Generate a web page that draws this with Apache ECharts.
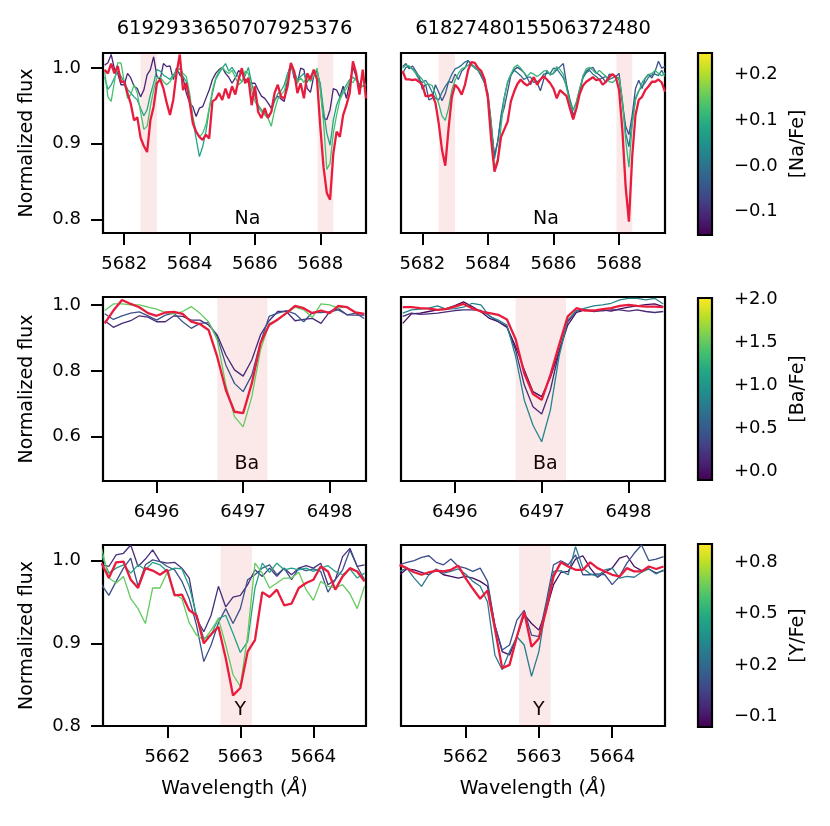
<!DOCTYPE html>
<html>
<head>
<meta charset="utf-8">
<script src="https://cdn.jsdelivr.net/npm/echarts@6/dist/echarts.min.js"></script>
<style>
  html, body { margin: 0; padding: 0; background: #fff; }
  #chart { width: 830px; height: 826px; }
</style>
</head>
<body>
<div id="chart"></div>
<script>
// ── spectra ─────────────────────────────────────────────────
const FONT = 'DejaVu Sans';
const RED = '#e81d3e';

const TITLES = ['6192933650707925376', '6182748015506372480'];
const ELEMENTS = ['Na', 'Ba', 'Y'];
const CB_NAMES = ['[Na/Fe]', '[Ba/Fe]', '[Y/Fe]'];

// wavelength grids (Å)
const WL_NA = [5681.4,5681.5,5681.6,5681.7,5681.8,5681.9,5682.0,5682.1,5682.2,5682.3,
  5682.4,5682.5,5682.6,5682.7,5682.8,5682.9,5683.0,5683.1,5683.2,5683.3,
  5683.4,5683.5,5683.6,5683.7,5683.8,5683.9,5684.0,5684.1,5684.2,5684.3,
  5684.4,5684.5,5684.6,5684.7,5684.8,5684.9,5685.0,5685.1,5685.2,5685.3,
  5685.4,5685.5,5685.6,5685.7,5685.8,5685.9,5686.0,5686.1,5686.2,5686.3,
  5686.4,5686.5,5686.6,5686.7,5686.8,5686.9,5687.0,5687.1,5687.2,5687.3,
  5687.4,5687.5,5687.6,5687.7,5687.8,5687.9,5688.0,5688.1,5688.2,5688.3,
  5688.4,5688.5,5688.6,5688.7,5688.8,5688.9,5689.0,5689.1,5689.2,5689.3,5689.4];
const WL_BA = [6495.4,6495.5,6495.6,6495.7,6495.8,6495.9,6496.0,6496.1,6496.2,6496.3,
  6496.4,6496.5,6496.6,6496.7,6496.8,6496.9,6497.0,6497.1,6497.2,6497.3,
  6497.4,6497.5,6497.6,6497.7,6497.8,6497.9,6498.0,6498.1,6498.2,6498.3,6498.4];
const WL_Y = [5661.1,5661.2,5661.3,5661.4,5661.5,5661.6,5661.7,5661.8,5661.9,5662.0,
  5662.1,5662.2,5662.3,5662.4,5662.5,5662.6,5662.7,5662.8,5662.9,5663.0,
  5663.1,5663.2,5663.3,5663.4,5663.5,5663.6,5663.7,5663.8,5663.9,5664.0,
  5664.1,5664.2,5664.3,5664.4,5664.5,5664.6,5664.7];

// Na · star 1 (left)
const NA_L_RED = [0.998,0.993,1.006,0.993,1.003,0.982,0.982,0.967,0.953,0.931,
  0.935,0.908,0.897,0.889,0.931,0.949,0.980,0.985,0.973,0.954,
  0.938,0.958,0.993,1.018,0.971,0.980,0.956,0.927,0.916,0.909,
  0.905,0.912,0.907,0.956,0.959,0.967,0.958,0.973,0.960,0.976,
  0.965,0.985,1.000,0.980,0.987,0.951,0.976,0.942,0.934,0.947,
  0.934,0.942,0.967,0.978,0.962,0.960,0.976,1.007,0.996,0.967,
  0.980,0.960,0.993,0.985,0.998,0.985,0.923,0.869,0.835,0.826,
  0.887,0.916,0.909,0.938,0.951,0.967,1.009,0.993,0.965,0.998,0.960];
const NA_L_PUR = [1.004,1.007,1.018,0.999,0.993,0.978,0.978,0.993,0.987,0.976,
  0.973,0.962,0.971,0.991,0.998,1.015,0.989,0.985,1.006,1.002,
  1.003,0.985,1.000,0.991,0.987,0.967,0.954,0.949,0.936,0.947,
  0.949,0.960,0.971,0.985,0.993,0.998,1.001,0.993,0.988,0.980,
  0.987,0.997,0.993,0.985,0.981,0.980,0.980,0.971,0.963,0.960,
  0.954,0.947,0.958,0.963,0.959,0.956,0.991,1.006,0.987,0.980,
  1.000,0.998,0.973,0.968,0.989,0.998,0.976,0.934,0.932,0.945,
  0.973,0.971,0.962,0.976,0.960,0.980,1.001,0.989,0.976,0.989,0.976];
const NA_L_TEAL = [0.988,0.972,0.978,0.987,0.996,0.989,0.982,0.972,0.967,0.962,
  0.958,0.947,0.937,0.945,0.965,0.980,0.998,0.996,0.991,0.988,
  0.985,0.991,0.997,0.994,0.989,0.982,0.962,0.931,0.907,0.883,
  0.896,0.916,0.945,0.967,0.985,0.993,1.000,1.006,0.996,1.001,
  0.994,0.988,0.982,0.990,1.001,0.980,0.963,0.951,0.945,0.940,
  0.937,0.942,0.956,0.966,0.970,0.978,0.993,1.000,0.996,0.985,
  0.989,0.993,0.981,0.990,0.993,0.994,0.980,0.945,0.914,0.898,
  0.931,0.951,0.962,0.970,0.978,0.985,0.988,0.984,0.979,0.976,0.977];
const NA_L_GRN = [0.996,0.962,0.956,0.982,1.007,1.007,0.982,0.960,0.965,0.978,
  0.967,0.942,0.919,0.923,0.949,0.971,0.987,0.988,0.982,0.978,
  0.982,0.989,0.996,1.000,0.993,0.989,0.967,0.936,0.916,0.909,
  0.914,0.925,0.947,0.971,0.987,0.996,1.001,0.996,0.993,0.997,
  0.988,0.978,0.982,0.996,0.993,0.971,0.956,0.949,0.942,0.938,
  0.934,0.923,0.944,0.959,0.965,0.970,0.989,1.004,0.991,0.981,
  0.987,0.981,0.991,0.982,0.989,1.000,0.971,0.929,0.866,0.874,
  0.914,0.938,0.958,0.967,0.973,0.982,0.981,0.988,0.973,0.976,0.979];
const NA_L_ABUND = [-0.11, 0.08, 0.13];

// Na · star 2 (right)
const NA_R_RED = [0.996,0.985,0.985,0.984,0.985,0.982,0.978,0.963,0.963,0.965,
  0.954,0.927,0.892,0.871,0.920,0.962,0.978,0.973,0.965,0.978,
  0.998,1.008,1.007,1.000,0.996,0.985,0.960,0.905,0.863,0.877,
  0.909,0.919,0.929,0.956,0.969,0.979,0.985,0.980,0.977,0.981,
  0.988,0.978,0.985,0.989,0.985,0.980,0.973,0.960,0.971,0.967,
  0.963,0.947,0.932,0.947,0.966,0.977,0.982,0.985,0.988,0.984,
  0.985,0.978,0.982,0.988,0.992,0.988,0.971,0.918,0.843,0.797,
  0.883,0.938,0.958,0.962,0.971,0.976,0.982,0.982,0.985,0.981,0.969];
const NA_R_NAVY = [1.002,1.006,0.999,1.003,0.996,0.989,0.972,0.979,0.958,0.960,
  0.978,0.968,0.957,0.966,0.982,0.981,0.992,0.985,0.996,1.000,
  1.010,1.004,1.002,0.997,0.989,0.980,0.962,0.923,0.885,0.903,
  0.934,0.948,0.969,0.990,0.998,1.001,0.998,0.994,0.987,0.978,
  0.987,0.981,0.970,0.985,0.996,0.991,0.993,0.998,1.002,1.006,
  0.978,0.956,0.938,0.947,0.968,0.989,0.996,0.999,1.001,0.994,
  0.991,0.987,0.981,0.992,0.991,0.989,0.993,0.954,0.923,0.912,
  0.938,0.973,0.984,0.973,0.987,0.992,0.987,0.996,1.009,1.000,1.002];
const NA_R_BLUE = [0.993,1.001,1.002,0.999,0.993,0.985,0.981,0.984,0.977,0.968,
  0.960,0.958,0.968,0.976,0.982,0.992,0.999,1.001,1.004,1.008,
  1.010,1.004,1.000,0.997,0.991,0.980,0.967,0.929,0.880,0.903,
  0.938,0.962,0.981,0.991,0.997,0.994,0.990,0.985,0.988,0.988,
  0.981,0.982,0.985,0.992,0.993,0.993,1.000,0.999,0.993,0.987,
  0.976,0.959,0.944,0.955,0.973,0.987,0.994,0.997,0.992,0.989,
  0.985,0.987,0.989,0.985,0.987,0.989,0.985,0.956,0.914,0.896,
  0.929,0.960,0.970,0.976,0.981,0.988,0.991,0.992,0.990,0.997,0.989];
const NA_R_GRN = [1.000,1.004,1.003,0.998,0.994,0.990,0.985,0.978,0.979,0.977,
  0.966,0.953,0.937,0.931,0.947,0.971,0.984,0.993,0.999,1.001,
  1.004,1.006,1.001,0.997,0.993,0.982,0.963,0.927,0.868,0.880,
  0.923,0.960,0.982,0.992,1.001,1.004,1.000,0.994,0.989,0.994,
  0.992,0.989,0.992,0.996,0.997,0.991,0.994,1.002,0.998,0.992,
  0.973,0.954,0.944,0.956,0.973,0.990,0.999,1.001,0.997,0.993,
  0.997,0.993,0.989,0.982,0.981,0.985,0.988,0.958,0.905,0.869,
  0.925,0.958,0.969,0.981,0.987,0.991,0.993,0.997,0.993,0.990,0.994];
const NA_R_ABUND = [-0.05, 0.0, 0.11];

// Ba · star 1 / star 2
const BA_L_RED = [0.944,0.983,1.015,1.003,0.993,0.975,0.967,0.977,0.979,0.973,
  0.949,0.942,0.924,0.843,0.742,0.676,0.672,0.762,0.884,0.939,
  0.956,0.975,0.997,0.990,0.975,0.983,0.975,0.997,0.993,0.977,0.973];
const BA_L_PUR = [0.952,0.932,0.944,0.952,0.967,0.963,0.949,0.949,0.967,0.965,
  0.954,0.954,0.939,0.909,0.848,0.803,0.784,0.833,0.909,0.952,
  0.980,0.980,0.952,0.956,0.959,0.944,0.980,0.989,0.970,0.969,0.969];
const BA_L_BLUE = [0.973,0.956,0.967,0.975,0.979,0.967,0.954,0.969,0.975,0.949,
  0.929,0.944,0.946,0.904,0.818,0.762,0.737,0.787,0.886,0.965,
  0.975,0.983,0.973,0.949,0.977,0.977,0.979,0.985,0.970,0.975,0.959];
const BA_L_GRN = [0.983,1.003,1.003,1.000,1.000,0.993,0.987,0.977,0.973,0.980,
  0.995,0.975,0.949,0.894,0.757,0.661,0.630,0.721,0.863,0.944,
  0.954,0.975,0.993,0.985,0.962,1.003,1.000,0.990,0.995,0.975,0.973];
const BA_L_ABUND = [0.15, 0.45, 1.5];

const BA_R_RED = [0.993,0.993,0.990,0.989,0.985,0.987,0.995,1.003,0.990,0.980,
  0.975,0.970,0.956,0.896,0.792,0.730,0.712,0.787,0.878,0.965,
  0.990,0.983,0.983,0.987,0.990,0.997,1.000,0.997,0.995,0.995,0.993];
const BA_R_DPUR = [0.944,0.973,0.975,0.980,0.985,0.989,0.998,1.009,0.995,0.979,
  0.959,0.949,0.934,0.873,0.803,0.737,0.722,0.780,0.858,0.939,
  0.977,0.985,0.980,0.985,0.981,0.988,0.993,0.997,1.001,1.003,0.995];
const BA_R_PUR = [0.965,0.975,0.971,0.973,0.975,0.979,0.983,0.985,0.985,0.983,
  0.967,0.949,0.932,0.863,0.757,0.691,0.669,0.742,0.858,0.949,
  0.981,0.985,0.981,0.982,0.985,0.985,0.981,0.985,0.980,0.977,0.980];
const BA_R_TEAL = [0.975,0.985,0.987,0.990,0.997,0.987,0.989,0.993,1.005,1.000,
  0.965,0.954,0.939,0.843,0.711,0.635,0.585,0.681,0.843,0.954,
  0.983,0.990,0.997,1.000,1.005,1.015,1.020,1.020,1.015,1.020,1.003];
const BA_R_ABUND = [-0.05, 0.15, 0.85];

// Y · star 1 / star 2
const Y_L_RED = [0.997,0.979,0.998,0.999,0.977,0.967,0.991,0.988,0.983,0.989,
  0.958,0.959,0.940,0.934,0.900,0.911,0.920,0.882,0.837,0.846,
  0.890,0.904,0.962,0.956,0.965,0.946,0.948,0.967,0.973,0.977,
  0.993,0.987,0.965,0.981,0.991,0.987,0.975];
const Y_L_PUR = [0.995,0.993,1.007,1.009,1.019,0.993,1.002,1.013,0.999,0.997,
  0.998,0.991,0.979,0.930,0.914,0.934,0.969,0.944,0.956,0.958,
  0.971,0.989,0.981,0.991,0.981,0.991,0.983,0.991,0.994,0.991,
  0.997,0.971,0.977,1.005,1.015,0.993,0.995];
const Y_L_BLUE = [0.971,0.958,0.975,0.991,1.003,0.969,0.995,1.001,0.999,0.993,
  0.989,0.975,0.954,0.922,0.878,0.898,0.925,0.942,0.924,0.942,
  0.977,0.983,0.991,0.995,0.983,0.991,0.977,0.991,0.988,0.990,
  0.987,0.962,0.977,0.989,1.013,0.993,0.977];
const Y_L_TEAL = [1.007,0.985,0.991,0.995,0.985,0.995,0.989,0.998,0.995,0.987,
  0.991,0.990,0.969,0.934,0.906,0.910,0.930,0.934,0.912,0.889,
  0.902,0.967,0.997,0.986,0.997,0.989,0.991,0.989,0.991,0.987,
  0.991,0.994,0.987,0.983,0.990,0.979,0.985];
const Y_L_GRN = [1.015,0.979,0.973,0.981,0.954,0.942,0.924,0.967,0.967,0.986,
  0.960,0.954,0.925,0.910,0.904,0.916,0.930,0.898,0.862,0.848,
  0.910,0.997,0.985,0.967,0.973,0.979,0.979,0.986,0.965,0.952,
  0.975,0.969,0.967,0.971,0.960,0.942,0.969];
const Y_L_ABUND = [-0.02, 0.10, 0.45, 0.65];

const Y_R_RED = [0.995,0.991,0.986,0.983,0.986,0.988,0.987,0.989,0.994,0.979,
  0.966,0.954,0.964,0.918,0.870,0.874,0.908,0.938,0.896,0.906,
  0.940,0.981,0.998,0.993,0.989,0.989,0.998,0.991,0.987,0.983,
  0.981,0.991,0.987,0.987,0.993,0.990,0.993];
const Y_R_PUR = [0.983,0.990,0.989,0.986,0.983,0.989,0.983,0.981,0.979,0.981,
  0.979,0.975,0.969,0.922,0.890,0.886,0.908,0.935,0.924,0.916,
  0.940,0.971,0.986,0.987,1.002,1.006,0.991,0.980,0.986,0.991,
  1.003,1.006,0.993,0.988,0.990,0.985,0.988];
const Y_R_BLUE = [0.995,0.998,1.000,1.004,1.006,0.998,0.995,1.002,0.993,0.991,
  0.987,0.991,0.975,0.922,0.892,0.898,0.928,0.940,0.910,0.908,
  0.950,0.995,1.000,0.995,1.007,0.983,0.983,0.984,0.983,0.971,
  0.981,0.997,1.009,1.019,1.000,1.002,1.005];
const Y_R_TEAL = [0.987,0.991,0.979,0.969,0.983,0.990,0.985,0.987,0.990,0.984,
  0.975,0.969,0.950,0.886,0.868,0.890,0.908,0.898,0.860,0.890,
  0.946,0.987,0.988,0.983,1.017,0.991,0.984,0.981,0.989,0.991,
  0.979,0.981,0.980,0.986,0.990,0.984,0.989];
const Y_R_ABUND = [-0.12, 0.10, 0.27];

// shaded line windows (Å)
const NA_BANDS = [[5682.5, 5683.0], [5687.92, 5688.4]];
const BA_BANDS = [[6496.7, 6497.28]];
const Y_BANDS = [[5662.73, 5663.16]];

// axis ticks
const NA_XTICKS = [5682, 5684, 5686, 5688];
const BA_XTICKS = [6496, 6497, 6498];
const Y_XTICKS = [5662, 5663, 5664];
const NA_YTICKS = [0.8, 0.9, 1.0];
const BA_YTICKS = [0.6, 0.8, 1.0];
const Y_YTICKS = [0.8, 0.9, 1.0];

// colour bars
const NA_CB_TICKS = [-0.1, 0, 0.1, 0.2];
const NA_CB_LABELS = ['\u22120.1', '\u22120.0', '+0.1', '+0.2'];
const BA_CB_TICKS = [0, 0.5, 1.0, 1.5, 2.0];
const BA_CB_LABELS = ['+0.0', '+0.5', '+1.0', '+1.5', '+2.0'];
const Y_CB_TICKS = [-0.1, 0.2, 0.5, 0.8];
const Y_CB_LABELS = ['\u22120.1', '+0.2', '+0.5', '+0.8'];

const VIRIDIS = ['#440154', '#482475', '#414487', '#355f8d', '#2a788e', '#21918c',
  '#22a884', '#44bf70', '#7ad151', '#bddf26', '#fde725'];

// ── layout (px) ─────────────────────────────────────────────
const COLS = [{ left: 103, width: 263 }, { left: 401, width: 264 }];
const ROWS = [{ top: 53, height: 180 }, { top: 297, height: 184 }, { top: 545, height: 181 }];
const CB_BOX = [{ top: 53, height: 182 }, { top: 298, height: 182 }, { top: 544, height: 183 }];
const CB_LEFT = 698, CB_W = 14;
const LABEL_DY = [14, 16.5, 16];   // element label centre above the bottom spine

const ROW_CFG = [
  { xMin: 5681.35, xMax: 5689.4, xTicks: NA_XTICKS, yMin: 0.782, yMax: 1.02, yTicks: NA_YTICKS, bands: NA_BANDS,
    cb: { range: [-0.151, 0.247], ticks: NA_CB_TICKS, labels: NA_CB_LABELS } },
  { xMin: 6495.38, xMax: 6498.42, xTicks: BA_XTICKS, yMin: 0.466, yMax: 1.024, yTicks: BA_YTICKS, bands: BA_BANDS,
    cb: { range: [-0.097, 2.01], ticks: BA_CB_TICKS, labels: BA_CB_LABELS } },
  { xMin: 5661.12, xMax: 5664.72, xTicks: Y_XTICKS, yMin: 0.8, yMax: 1.019, yTicks: Y_YTICKS, bands: Y_BANDS,
    cb: { range: [-0.163, 0.907], ticks: Y_CB_TICKS, labels: Y_CB_LABELS } },
];

const PANELS = [
  { row: 0, col: 0, wl: WL_NA, obs: NA_L_RED, models: [NA_L_PUR, NA_L_TEAL, NA_L_GRN], abund: NA_L_ABUND },
  { row: 0, col: 1, wl: WL_NA, obs: NA_R_RED, models: [NA_R_NAVY, NA_R_BLUE, NA_R_GRN], abund: NA_R_ABUND },
  { row: 1, col: 0, wl: WL_BA, obs: BA_L_RED, models: [BA_L_PUR, BA_L_BLUE, BA_L_GRN], abund: BA_L_ABUND },
  { row: 1, col: 1, wl: WL_BA, obs: BA_R_RED, models: [BA_R_DPUR, BA_R_PUR, BA_R_TEAL], abund: BA_R_ABUND },
  { row: 2, col: 0, wl: WL_Y, obs: Y_L_RED, models: [Y_L_PUR, Y_L_BLUE, Y_L_TEAL, Y_L_GRN], abund: Y_L_ABUND },
  { row: 2, col: 1, wl: WL_Y, obs: Y_R_RED, models: [Y_R_PUR, Y_R_BLUE, Y_R_TEAL], abund: Y_R_ABUND },
];

// viridis lookup for a value inside a colour-bar range
function hex2rgb(h) { return [1, 3, 5].map(i => parseInt(h.substr(i, 2), 16)); }
function viridis(t) {
  t = Math.max(0, Math.min(1, t));
  const f = t * (VIRIDIS.length - 1), i = Math.min(Math.floor(f), VIRIDIS.length - 2), u = f - i;
  const a = hex2rgb(VIRIDIS[i]), b = hex2rgb(VIRIDIS[i + 1]);
  return 'rgb(' + a.map((v, k) => Math.round(v + (b[k] - v) * u)).join(',') + ')';
}
const cbColor = (cb, v) => viridis((v - cb.range[0]) / (cb.range[1] - cb.range[0]));

const TICK = { length: 12, lineStyle: { color: '#000', width: 2 } };
const LBL = { color: '#000', fontSize: 18, fontFamily: FONT };

// ── build option ────────────────────────────────────────────
const grid = [], xAxis = [], yAxis = [], series = [], graphic = [];

PANELS.forEach((p, i) => {
  const R = ROW_CFG[p.row], C = COLS[p.col], G = ROWS[p.row];
  grid.push({ left: C.left, top: G.top, width: C.width, height: G.height, show: true,
    borderColor: '#000', borderWidth: 2.2, backgroundColor: 'transparent', containLabel: false, outerBoundsMode: 'none' });
  xAxis.push({
    type: 'value', gridIndex: i, min: R.xMin, max: R.xMax,
    axisLine: { show: false }, splitLine: { show: false },
    axisTick: Object.assign({ show: true, customValues: R.xTicks }, TICK),
    axisLabel: Object.assign({ customValues: R.xTicks, margin: 22, formatter: v => String(v) }, LBL),
  });
  const showY = p.col === 0;
  yAxis.push({
    type: 'value', gridIndex: i, min: R.yMin, max: R.yMax,
    axisLine: { show: false }, splitLine: { show: false },
    axisTick: Object.assign({ show: showY, customValues: R.yTicks }, TICK),
    axisLabel: Object.assign({ show: showY, customValues: R.yTicks, margin: 22, formatter: v => v.toFixed(1) }, LBL),
  });
  // pink line windows
  series.push({
    type: 'line', xAxisIndex: i, yAxisIndex: i, data: [], z: 1, silent: true,
    markArea: { silent: true, itemStyle: { color: 'rgba(214,39,40,0.1)' },
      data: R.bands.map(b => [{ xAxis: b[0] }, { xAxis: b[1] }]) },
  });
  p.models.forEach((m, j) => series.push({
    type: 'line', xAxisIndex: i, yAxisIndex: i, z: 2, symbol: 'none', silent: true,
    data: p.wl.map((w, k) => [w, m[k]]),
    lineStyle: { width: 1.3, color: cbColor(R.cb, p.abund[j]) },
  }));
  series.push({
    type: 'line', xAxisIndex: i, yAxisIndex: i, z: 3, symbol: 'none', silent: true,
    data: p.wl.map((w, k) => [w, p.obs[k]]),
    lineStyle: { width: 2.3, color: RED },
  });
  // element label, left-aligned at the panel's middle
  graphic.push({ type: 'text', silent: true, x: C.left + C.width / 2, y: G.top + G.height - LABEL_DY[p.row],
    style: { text: ELEMENTS[p.row], x: 0, y: 0, fill: '#000', fontSize: 19, fontFamily: FONT,
      align: 'left', verticalAlign: 'middle', textAlign: 'left', textVerticalAlign: 'middle' } });
});

// colour bars
const cbStops = VIRIDIS.map((c, k) => ({ offset: k / (VIRIDIS.length - 1), color: VIRIDIS[VIRIDIS.length - 1 - k] }));
ROW_CFG.forEach((R, r) => {
  const gi = PANELS.length + r, cb = R.cb, B = CB_BOX[r];
  grid.push({ left: CB_LEFT, top: B.top, width: CB_W, height: B.height, show: true,
    borderColor: '#000', borderWidth: 2.2, backgroundColor: 'transparent', containLabel: false, outerBoundsMode: 'none', z: 3 });
  xAxis.push({ type: 'value', gridIndex: gi, min: 0, max: 1, show: false });
  yAxis.push({
    type: 'value', gridIndex: gi, position: 'right', min: cb.range[0], max: cb.range[1],
    axisLine: { show: false }, splitLine: { show: false },
    axisTick: Object.assign({ show: true, customValues: cb.ticks }, TICK),
    axisLabel: Object.assign({ customValues: cb.ticks, margin: 22, formatter: v => cb.labels[cb.ticks.indexOf(v)] }, LBL),
  });
  series.push({
    type: 'line', xAxisIndex: gi, yAxisIndex: gi, data: [], silent: true, z: 1,
    markArea: { silent: true, itemStyle: { color: new echarts.graphic.LinearGradient(0, 0, 0, 1, cbStops) },
      data: [[{ xAxis: 0, yAxis: cb.range[0] }, { xAxis: 1, yAxis: cb.range[1] }]] },
  });
  graphic.push({ type: 'text', silent: true, x: 798, y: B.top + B.height / 2, rotation: Math.PI / 2,
    style: { text: CB_NAMES[r], x: 0, y: 0, fill: '#000', fontSize: 19, fontFamily: FONT,
      align: 'center', verticalAlign: 'middle', textAlign: 'center', textVerticalAlign: 'middle' } });
});

// titles, axis labels
const txt = (x, y, text, rot, extra) => ({ type: 'text', silent: true, x, y, rotation: rot || 0,
  style: Object.assign({ text, x: 0, y: 0, fill: '#000', fontSize: 19, fontFamily: FONT,
    align: 'center', verticalAlign: 'middle', textAlign: 'center', textVerticalAlign: 'middle' }, extra || {}) });

COLS.forEach((C, c) => {
  graphic.push(txt(C.left + C.width / 2, 29, TITLES[c], 0, { fontSize: 19.5 }));
  graphic.push(txt(C.left + C.width / 2, 789, 'Wavelength ({i|Å})', 0,
    { rich: { i: { fontStyle: 'italic', fontSize: 19, fontFamily: FONT, fill: '#000' } } }));
});
ROWS.forEach(G => graphic.push(txt(27.5, G.top + G.height / 2, 'Normalized flux', Math.PI / 2)));

const chart = echarts.init(document.getElementById('chart'), null, { renderer: 'canvas' });
chart.setOption({
  backgroundColor: '#fff',
  animation: false,
  grid, xAxis, yAxis, series, graphic,
});
</script>
</body>
</html>
